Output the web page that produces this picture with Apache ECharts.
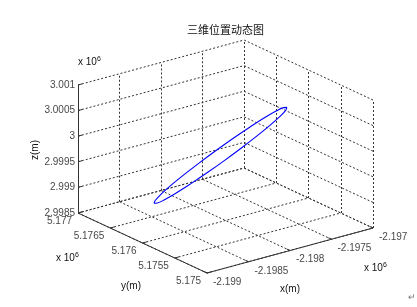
<!DOCTYPE html>
<html><head><meta charset="utf-8">
<script src="https://cdn.jsdelivr.net/npm/echarts@6/dist/echarts.min.js"></script>
<style>html,body{margin:0;padding:0;background:#fff}#c{width:417px;height:307px}</style>
</head><body><div id="c"></div>
<script>
// ---- data (metres) ----
const xTicks = [-2199000, -2198500, -2198000, -2197500, -2197000];
const xTickLabels = ['-2.199', '-2.1985', '-2.198', '-2.1975', '-2.197'];
const yTicks = [5175000, 5175500, 5176000, 5176500, 5177000];
const yTickLabels = ['5.175', '5.1755', '5.176', '5.1765', '5.177'];
const zTicks = [2998500, 2999000, 2999500, 3000000, 3000500, 3001000];
const zTickLabels = ['2.9985', '2.999', '2.9995', '3', '3.0005', '3.001'];

const trajX = [-2197260, -2197287, -2197367, -2197494, -2197660, -2197853, -2198060, -2198267,
  -2198460, -2198626, -2198753, -2198833, -2198860, -2198833, -2198753, -2198626,
  -2198460, -2198267, -2198060, -2197853, -2197660, -2197494, -2197367, -2197287, -2197260];
const trajY = [5176000, 5175985, 5175970, 5175958, 5175949, 5175943, 5175941, 5175943,
  5175949, 5175958, 5175970, 5175985, 5176000, 5176015, 5176030, 5176042,
  5176051, 5176057, 5176059, 5176057, 5176051, 5176042, 5176030, 5176015, 5176000];
const trajZ = [3000385, 3000347, 3000272, 3000165, 3000033, 2999885, 2999731, 2999582,
  2999448, 2999337, 2999259, 2999217, 2999215, 2999253, 2999328, 2999435,
  2999567, 2999715, 2999869, 3000018, 3000152, 3000263, 3000341, 3000383, 3000385];

// ---- 3D view (layout) ----
const X0 = xTicks[0], X1 = xTicks[xTicks.length - 1];
const Y0 = yTicks[0], Y1 = yTicks[yTicks.length - 1];
const Z0 = zTicks[0], Z1 = zTicks[zTicks.length - 1];
const O = [207, 273], EX = [166, -45], EY = [-129, -60], EZ = [0, -128];
function proj(x, y, z) {
  const u = (x - X0) / (X1 - X0), v = (y - Y0) / (Y1 - Y0), w = (z - Z0) / (Z1 - Z0);
  return [O[0] + u * EX[0] + v * EY[0] + w * EZ[0], O[1] + u * EX[1] + v * EY[1] + w * EZ[1]];
}

const grid = [];
function seg(a, b) { grid.push({ coords: [proj(...a), proj(...b)] }); }
// back wall y = Y1
zTicks.forEach(z => seg([X0, Y1, z], [X1, Y1, z]));
xTicks.forEach(x => seg([x, Y1, Z0], [x, Y1, Z1]));
// back wall x = X1
zTicks.forEach(z => seg([X1, Y0, z], [X1, Y1, z]));
yTicks.forEach(y => seg([X1, y, Z0], [X1, y, Z1]));
// floor
xTicks.forEach(x => seg([x, Y0, Z0], [x, Y1, Z0]));
yTicks.forEach(y => seg([X0, y, Z0], [X1, y, Z0]));

const axes = [
  { coords: [proj(X0, Y1, Z0), proj(X0, Y1, Z1)] },
  { coords: [proj(X0, Y1, Z0), proj(X0, Y0, Z0)] },
  { coords: [proj(X0, Y0, Z0), proj(X1, Y0, Z0)] }
];
const tl = 0.025;
zTicks.forEach(z => axes.push({ coords: [proj(X0, Y1, z), proj(X0 + tl * (X1 - X0), Y1, z)] }));
yTicks.forEach(y => axes.push({ coords: [proj(X0, y, Z0), proj(X0 + tl * (X1 - X0), y, Z0)] }));
xTicks.forEach(x => axes.push({ coords: [proj(x, Y0, Z0), proj(x, Y0 + tl * (Y1 - Y0), Z0)] }));

const traj = trajX.map((x, i) => proj(x, trajY[i], trajZ[i]));

const font = 'Liberation Sans';
const lblBase = { show: true, fontFamily: font, fontSize: 10, color: '#111' };
const sup = { rich: { s: { fontSize: 7, fontFamily: font, color: '#111', verticalAlign: 'top', padding: [0, 0, 6, 0] } } };

const chart = echarts.init(document.getElementById('c'));
chart.setOption({
  animation: false,
  backgroundColor: '#fff',
  title: { text: '三维位置动态图', left: 187, top: 24, padding: 0,
    textStyle: { fontFamily: 'Noto Sans CJK SC', fontSize: 11, fontWeight: 'normal', color: '#111' } },
  grid: { left: 0, top: 0, right: 0, bottom: 0 },
  xAxis: { type: 'value', min: 0, max: 417, show: false },
  yAxis: { type: 'value', min: 0, max: 307, inverse: true, show: false },
  series: [
    { type: 'lines', coordinateSystem: 'cartesian2d', silent: true, data: grid,
      lineStyle: { color: '#333', width: 1, type: [2, 2], opacity: 1 } },
    { type: 'lines', coordinateSystem: 'cartesian2d', silent: true, data: axes,
      lineStyle: { color: '#333', width: 1, opacity: 1 } },
    { type: 'line', data: traj, smooth: 0.4, showSymbol: false, silent: true,
      lineStyle: { color: '#0000ff', width: 1.1 }, z: 5 },
    { type: 'scatter', symbolSize: 0, silent: true,
      data: zTicks.map((z, i) => ({ value: proj(X0, Y1, z), name: zTickLabels[i] })),
      label: Object.assign({}, lblBase, { position: 'left', distance: 3, formatter: p => p.name }) },
    { type: 'scatter', symbolSize: 0, silent: true,
      data: yTicks.map((y, i) => ({ value: proj(X0, y, Z0), name: yTickLabels[i] })),
      label: Object.assign({}, lblBase, { position: 'inside', align: 'right', offset: [-6, 8], formatter: p => p.name }) },
    { type: 'scatter', symbolSize: 0, silent: true,
      data: xTicks.map((x, i) => ({ value: proj(x, Y0, Z0), name: xTickLabels[i] })),
      label: Object.assign({}, lblBase, { position: 'inside', align: 'left', offset: [6, 9], formatter: p => p.name }) }
  ],
  graphic: [
    { type: 'text', x: 78, y: 56, style: Object.assign({ text: 'x 10{s|6}', font: '10px ' + font, fill: '#111' }, sup) },
    { type: 'text', x: 56, y: 252, style: Object.assign({ text: 'x 10{s|6}', font: '10px ' + font, fill: '#111' }, sup) },
    { type: 'text', x: 364, y: 262, style: Object.assign({ text: 'x 10{s|6}', font: '10px ' + font, fill: '#111' }, sup) },
    { type: 'text', x: 35, y: 150, rotation: Math.PI / 2,
      style: { text: 'z(m)', font: '10px ' + font, fill: '#111', align: 'center', verticalAlign: 'middle' } },
    { type: 'text', x: 131, y: 286,
      style: { text: 'y(m)', font: '10px ' + font, fill: '#111', align: 'center', verticalAlign: 'middle' } },
    { type: 'text', x: 290, y: 289,
      style: { text: 'x(m)', font: '10px ' + font, fill: '#111', align: 'center', verticalAlign: 'middle' } },
    { type: 'text', x: 412, y: 298,
      style: { text: '↵', font: '9px ' + font, fill: '#777', align: 'center', verticalAlign: 'middle' } }
  ]
});
</script>
</body></html>
